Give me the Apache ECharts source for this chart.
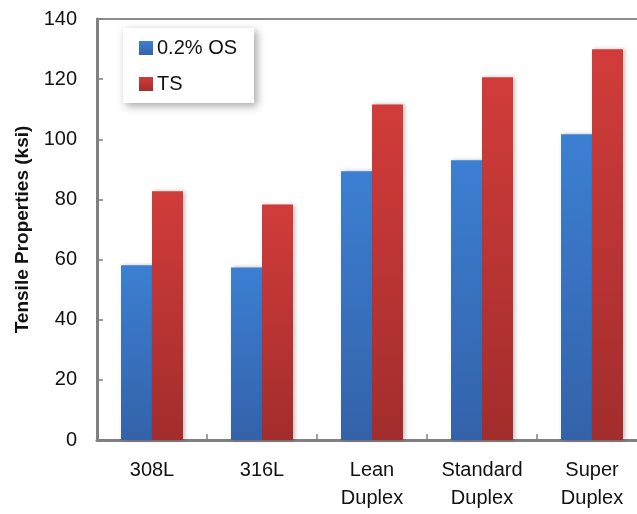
<!DOCTYPE html>
<html><head><meta charset="utf-8">
<script src="https://cdn.jsdelivr.net/npm/echarts@6/dist/echarts.min.js"></script>
<style>html,body{margin:0;padding:0;background:#fff}#c{width:637px;height:514px}</style>
</head><body><div id="c"></div>
<script>
const categories = ['308L', '316L', 'Lean\nDuplex', 'Standard\nDuplex', 'Super\nDuplex'];
const osValues = [58.1, 57.4, 89.4, 93.0, 101.7];
const tsValues = [82.7, 78.3, 111.6, 120.6, 129.9];
const yTicks = { min: 0, max: 140, interval: 20 };

const font = 'Liberation Sans, Arial, sans-serif';
const blueGrad = { type: 'linear', x: 0, y: 0, x2: 0, y2: 1, colorStops: [
  { offset: 0, color: '#3c7fd2' }, { offset: 1, color: '#3462aa' } ] };
const redGrad = { type: 'linear', x: 0, y: 0, x2: 0, y2: 1, colorStops: [
  { offset: 0, color: '#d13c3a' }, { offset: 1, color: '#a22d2c' } ] };

const chart = echarts.init(document.getElementById('c'));
chart.setOption({
  animation: false,
  backgroundColor: '#fff',
  grid: { left: 97, top: 19, right: -10, bottom: 74, show: true, borderColor: '#8c8c8c', borderWidth: 2,
          containLabel: false, outerBoundsMode: 'none' },
  legend: {
    orient: 'vertical', left: 123, top: 28,
    backgroundColor: '#fff', padding: [10, 17, 9, 16],
    shadowBlur: 8, shadowColor: 'rgba(0,0,0,0.35)', shadowOffsetX: 3, shadowOffsetY: 3,
    icon: 'rect', itemWidth: 14, itemHeight: 14, itemGap: 16,
    textStyle: { fontFamily: font, fontSize: 20, color: '#111', padding: [0, 0, 0, -1] },
    data: ['0.2% OS', 'TS']
  },
  xAxis: {
    type: 'category', data: categories,
    axisLine: { lineStyle: { color: '#808080', width: 3 } },
    axisTick: { show: true, inside: true, length: 6, alignWithLabel: false, lineStyle: { color: '#808080', width: 1.5 } },
    axisLabel: { fontFamily: font, fontSize: 20, color: '#111', margin: 16, lineHeight: 28, interval: 0 }
  },
  yAxis: {
    type: 'value', min: yTicks.min, max: yTicks.max, interval: yTicks.interval,
    name: 'Tensile Properties (ksi)', nameLocation: 'middle', nameGap: 65, nameRotate: 90,
    nameTextStyle: { fontFamily: font, fontSize: 19, fontWeight: 'bold', color: '#111' },
    axisLine: { show: true, lineStyle: { color: '#808080', width: 3 } },
    axisTick: { show: true, inside: true, length: 6, lineStyle: { color: '#808080', width: 1.5 } },
    splitLine: { show: false },
    axisLabel: { fontFamily: font, fontSize: 20, color: '#111', margin: 20 }
  },
  series: [
    { name: '0.2% OS', type: 'bar', data: osValues, barWidth: 31, barGap: '0%',
      itemStyle: { color: blueGrad, shadowBlur: 4, shadowColor: 'rgba(0,0,0,0.25)', shadowOffsetX: 2 } },
    { name: 'TS', type: 'bar', data: tsValues, barWidth: 31, barGap: '0%',
      itemStyle: { color: redGrad, shadowBlur: 4, shadowColor: 'rgba(0,0,0,0.25)', shadowOffsetX: 2 } }
  ]
});
</script></body></html>
